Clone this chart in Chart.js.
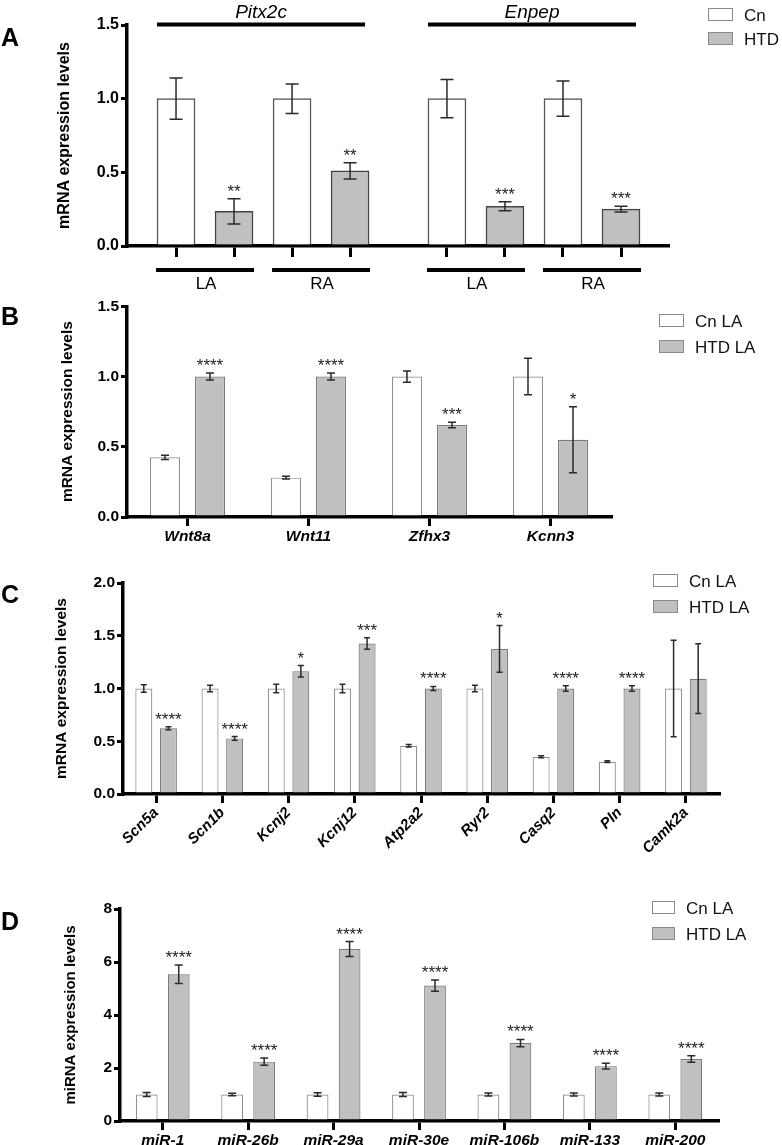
<!DOCTYPE html>
<html>
<head>
<meta charset="utf-8">
<script src="https://cdn.jsdelivr.net/npm/chart.js@4.4.1/dist/chart.umd.min.js"></script>
<style>
  html, body { margin: 0; padding: 0; background: #fff; }
  #page { position: relative; width: 782px; height: 1145px; overflow: hidden; }
  canvas { position: absolute; left: 0; }
</style>
</head>
<body>
<div id="page">
  <canvas id="chartA" width="782" height="295" style="top:0"></canvas>
  <canvas id="chartB" width="782" height="250" style="top:295px"></canvas>
  <canvas id="chartC" width="782" height="310" style="top:545px"></canvas>
  <canvas id="chartD" width="782" height="290" style="top:855px"></canvas>
</div>
<script>
// ---- Panel A: Pitx2c / Enpep, LA and RA ----
const genesA = ["Pitx2c", "Enpep"];
const tissuesA = ["LA", "RA"];
// order: Pitx2c LA, Pitx2c RA, Enpep LA, Enpep RA
const cnA = [1.0, 1.0, 1.0, 1.0];
const cnErrA = [0.14, 0.10, 0.13, 0.12];
const htdA = [0.235, 0.51, 0.27, 0.25];
const htdErrA = [0.085, 0.055, 0.03, 0.02];
const sigA = ["**", "**", "***", "***"];
const legendA = ["Cn", "HTD"];

// ---- Panel B ----
const genesB = ["Wnt8a", "Wnt11", "Zfhx3", "Kcnn3"];
const cnB = [0.425, 0.28, 1.0, 1.0];
const cnErrB = [0.015, 0.01, 0.04, 0.13];
const htdB = [1.0, 1.0, 0.655, 0.55];
const htdErrB = [0.025, 0.025, 0.02, 0.235];
const sigB = ["****", "****", "***", "*"];

// ---- Panel C ----
const genesC = ["Scn5a", "Scn1b", "Kcnj2", "Kcnj12", "Atp2a2", "Ryr2", "Casq2", "Pln", "Camk2a"];
const cnC = [1.0, 1.0, 1.0, 1.0, 0.457, 1.0, 0.353, 0.306, 1.0];
const cnErrC = [0.035, 0.03, 0.04, 0.04, 0.012, 0.03, 0.01, 0.008, 0.457];
const htdC = [0.623, 0.527, 1.163, 1.427, 1.0, 1.375, 1.0, 1.0, 1.093];
const htdErrC = [0.015, 0.018, 0.055, 0.055, 0.02, 0.222, 0.025, 0.025, 0.33];
const sigC = ["****", "****", "*", "***", "****", "*", "****", "****", ""];

// ---- Panel D: miRNAs ----
const mirD = ["miR-1", "miR-26b", "miR-29a", "miR-30e", "miR-106b", "miR-133", "miR-200"];
const cnD = [1.0, 1.0, 1.0, 1.0, 1.0, 1.0, 1.0];
const cnErrD = [0.08, 0.05, 0.07, 0.08, 0.06, 0.06, 0.06];
const htdD = [5.54, 2.24, 6.49, 5.11, 2.94, 2.07, 2.34];
const htdErrD = [0.35, 0.14, 0.28, 0.21, 0.14, 0.11, 0.12];
const sigD = ["****", "****", "****", "****", "****", "****", "****"];

const legendLA = ["Cn LA", "HTD LA"];

const FONT = "'Liberation Sans', Arial, Helvetica, sans-serif";
const CN_FILL = "#ffffff";
const HTD_FILL = "#c0c0c0";

// error bars + significance stars
const errorBarsPlugin = {
  id: "errorBars",
  afterDatasetsDraw(chart, args, opts) {
    const { ctx } = chart;
    const y = chart.scales.y;
    ctx.save();
    chart.data.datasets.forEach((ds, i) => {
      const meta = chart.getDatasetMeta(i);
      meta.data.forEach((bar, j) => {
        const v = meta.controller.getParsed(j).y;
        const e = ds.errors[j];
        const top = y.getPixelForValue(v + e);
        const bot = y.getPixelForValue(v - e);
        const half = opts.capWidth / 2;
        ctx.strokeStyle = "#2a2a2a";
        ctx.lineWidth = 1.5;
        ctx.beginPath();
        ctx.moveTo(bar.x, top);
        ctx.lineTo(bar.x, bot);
        ctx.moveTo(bar.x - half, top);
        ctx.lineTo(bar.x + half, top);
        ctx.moveTo(bar.x - half, bot);
        ctx.lineTo(bar.x + half, bot);
        ctx.stroke();
        if (ds.sig && ds.sig[j]) {
          ctx.fillStyle = "#222";
          ctx.font = `17px ${FONT}`;
          ctx.textAlign = "center";
          ctx.textBaseline = "alphabetic";
          ctx.fillText(ds.sig[j], bar.x, top - 2);
        }
      });
    });
    ctx.restore();
  },
};

// legend boxes and panel letter
const panelDecorPlugin = {
  id: "panelDecor",
  afterDraw(chart, args, opts) {
    const { ctx } = chart;
    ctx.save();
    ctx.fillStyle = "#000";
    ctx.font = `bold 25px ${FONT}`;
    ctx.textAlign = "left";
    ctx.textBaseline = "alphabetic";
    ctx.fillText(opts.letter, 1, opts.letterY);

    chart.data.datasets.forEach((ds, i) => {
      const by = opts.legendY + i * opts.legendGap;
      ctx.fillStyle = ds.backgroundColor;
      ctx.fillRect(opts.legendX, by, opts.boxW, 12);
      ctx.strokeStyle = "#8a8a8a";
      ctx.lineWidth = 1;
      ctx.strokeRect(opts.legendX + 0.5, by + 0.5, opts.boxW, 12);
      ctx.fillStyle = "#111";
      ctx.font = `17px ${FONT}`;
      ctx.fillText(ds.label, opts.legendX + opts.boxW + 12, by + 12.5);
    });
    ctx.restore();
  },
};

// gene / tissue brackets for panel A
const groupLabelsPlugin = {
  id: "groupLabels",
  afterDraw(chart, args, opts) {
    if (!opts.genes) return;
    const { ctx } = chart;
    const cnBars = chart.getDatasetMeta(0).data;
    const htdBars = chart.getDatasetMeta(1).data;
    ctx.save();
    ctx.strokeStyle = "#000";
    ctx.fillStyle = "#000";
    ctx.lineWidth = 4;
    ctx.textAlign = "center";
    ctx.textBaseline = "alphabetic";
    opts.genes.forEach((gene, g) => {
      const x0 = cnBars[g * 2].x - 19;
      const x1 = htdBars[g * 2 + 1].x + 15;
      ctx.beginPath();
      ctx.moveTo(x0, 24.5);
      ctx.lineTo(x1, 24.5);
      ctx.stroke();
      ctx.font = `italic 19px ${FONT}`;
      ctx.fillText(gene, (x0 + x1) / 2, 18);
      opts.tissues.forEach((t, k) => {
        const c = (cnBars[g * 2 + k].x + htdBars[g * 2 + k].x) / 2;
        ctx.beginPath();
        ctx.moveTo(c - 49, 270);
        ctx.lineTo(c + 49, 270);
        ctx.stroke();
        ctx.font = `17px ${FONT}`;
        ctx.fillText(t, c + 1, 289);
      });
    });
    ctx.restore();
  },
};

Chart.register(errorBarsPlugin, panelDecorPlugin, groupLabelsPlugin);

function yScale(cfg) {
  return {
    min: 0,
    max: cfg.yMax,
    ticks: {
      stepSize: cfg.step,
      color: "#000",
      padding: 2,
      font: { family: FONT, size: cfg.tickSize || 15.5, weight: "bold" },
      callback: cfg.fmt,
    },
    grid: { drawOnChartArea: false, tickLength: 6, lineWidth: 3, color: "#000" },
    border: { width: 3.5, color: "#000" },
    title: {
      display: true,
      text: cfg.yTitle,
      color: "#000",
      font: { family: FONT, size: cfg.titleSize || 15.5, weight: "bold" },
    },
    afterFit: (axis) => {
      axis.width = cfg.yWidth;
    },
  };
}

function seriesStyle(fill, border) {
  return { backgroundColor: fill, borderColor: border, borderWidth: 1.2 };
}

// panel A uses a linear index axis so the two genes can be spaced apart
const slotA = (k, s) => Math.floor(k / 2) * 4.67 + (k % 2) * 2 + s;
const barPosA = [];
cnA.forEach((v, k) => barPosA.push(slotA(k, 0), slotA(k, 1)));

new Chart(document.getElementById("chartA"), {
  type: "bar",
  data: {
    datasets: [
      {
        label: legendA[0],
        data: cnA.map((v, k) => ({ x: slotA(k, 0), y: v })),
        errors: cnErrA,
        ...seriesStyle(CN_FILL, "#555"),
        borderWidth: 1.5,
      },
      {
        label: legendA[1],
        data: htdA.map((v, k) => ({ x: slotA(k, 1), y: v })),
        errors: htdErrA,
        sig: sigA,
        ...seriesStyle(HTD_FILL, "#444"),
        borderWidth: 1.5,
      },
    ],
  },
  options: {
    responsive: false,
    animation: false,
    grouped: false,
    barThickness: 38,
    layout: { padding: { left: 51, top: 25, right: 114, bottom: 37 } },
    plugins: {
      legend: { display: false },
      tooltip: { enabled: false },
      errorBars: { capWidth: 13 },
      panelDecor: { letter: "A", letterY: 46, legendX: 708, legendY: 8, legendGap: 24, boxW: 24 },
      groupLabels: { genes: genesA, tissues: tissuesA },
    },
    scales: {
      x: {
        type: "linear",
        offset: false,
        min: -0.845,
        max: 8.48,
        afterBuildTicks: (axis) => {
          axis.ticks = barPosA.map((v) => ({ value: v }));
        },
        ticks: { display: false },
        grid: { offset: false, drawOnChartArea: false, tickLength: 11, lineWidth: 3, color: "#000" },
        border: { width: 3.5, color: "#000" },
        afterFit: (axis) => {
          axis.height = 12;
        },
      },
      y: yScale({ yMax: 1.5, step: 0.5, fmt: (v) => v.toFixed(1), yTitle: "mRNA expression levels", yWidth: 76, tickSize: 16, titleSize: 16 }),
    },
  },
});

function categoryChart(id, cfg) {
  return new Chart(document.getElementById(id), {
    type: "bar",
    data: {
      labels: cfg.labels,
      datasets: [
        { label: cfg.legend[0], data: cfg.cn, errors: cfg.cnErr, ...seriesStyle(CN_FILL, "#8f8f8f") },
        { label: cfg.legend[1], data: cfg.htd, errors: cfg.htdErr, sig: cfg.sig, ...seriesStyle(HTD_FILL, "#7a7a7a") },
      ],
    },
    options: {
      responsive: false,
      animation: false,
      categoryPercentage: cfg.catPct,
      barPercentage: cfg.barPct,
      layout: { padding: cfg.padding },
      plugins: {
        legend: { display: false },
        tooltip: { enabled: false },
        errorBars: { capWidth: cfg.cap },
        panelDecor: cfg.decor,
        groupLabels: {},
      },
      scales: {
        x: {
          offset: true,
          ticks: {
            color: "#000",
            padding: 1,
            autoSkip: false,
            minRotation: cfg.rot,
            maxRotation: cfg.rot,
            font: { family: FONT, size: cfg.xSize, weight: "bold", style: "italic" },
          },
          grid: { offset: false, drawOnChartArea: false, tickLength: 9, lineWidth: 3, color: "#000" },
          border: { width: 3.5, color: "#000" },
          afterFit: (axis) => {
            axis.height = cfg.xHeight;
          },
        },
        y: yScale(cfg.y),
      },
    },
  });
}

categoryChart("chartB", {
  labels: genesB, cn: cnB, cnErr: cnErrB, htd: htdB, htdErr: htdErrB, sig: sigB, legend: legendLA,
  catPct: 0.744, barPct: 0.667, cap: 8, rot: 0, xSize: 15.5, xHeight: 28,
  padding: { left: 54, top: 10, right: 171, bottom: 0 },
  decor: { letter: "B", letterY: 30, legendX: 659, legendY: 19, legendGap: 26, boxW: 24 },
  y: { yMax: 1.5, step: 0.5, fmt: (v) => v.toFixed(1), yTitle: "mRNA expression levels", yWidth: 73 },
});

categoryChart("chartC", {
  labels: genesC, cn: cnC, cnErr: cnErrC, htd: htdC, htdErr: htdErrC, sig: sigC, legend: legendLA,
  catPct: 0.743, barPct: 0.69, cap: 6, rot: 45, xSize: 15, xHeight: 61,
  padding: { left: 48, top: 38, right: 63, bottom: 0 },
  decor: { letter: "C", letterY: 58, legendX: 653, legendY: 29, legendGap: 26, boxW: 24 },
  y: { yMax: 2.0, step: 0.5, fmt: (v) => v.toFixed(1), yTitle: "mRNA expression levels", yWidth: 75 },
});

categoryChart("chartD", {
  labels: mirD, cn: cnD, cnErr: cnErrD, htd: htdD, htdErr: htdErrD, sig: sigD, legend: legendLA,
  catPct: 0.75, barPct: 0.68, cap: 8, rot: 0, xSize: 15.5, xHeight: 24,
  padding: { left: 58, top: 54, right: 64, bottom: 0 },
  decor: { letter: "D", letterY: 75, legendX: 652, legendY: 46, legendGap: 26, boxW: 22 },
  y: { yMax: 8, step: 2, fmt: (v) => String(v), yTitle: "miRNA expression levels", yWidth: 62, titleSize: 15 },
});
</script>
</body>
</html>
